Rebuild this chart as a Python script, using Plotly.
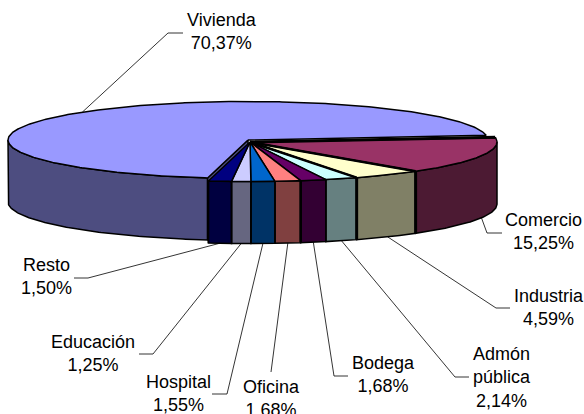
import math
import plotly.graph_objects as go

# ---- data -------------------------------------------------------------
categories = ["Comercio", "Industria", "Admón<br>pública", "Bodega", "Oficina",
              "Hospital", "Educación", "Resto", "Vivienda"]
values = [15.25, 4.59, 2.14, 1.68, 1.68, 1.55, 1.25, 1.50, 70.37]

# ---- styles -----------------------------------------------------------
top_colors = ["#993366", "#FFFFCC", "#CCFFFF", "#660066", "#FF8080",
              "#0066CC", "#CCCCFF", "#000080", "#9999FF"]
wall_colors = ["#4C1A33", "#808066", "#668080", "#330033", "#804040",
               "#003366", "#666680", "#000040", "#4D4D80"]
sep_widths = [3.0, 3.0, 1.2, 2.6, 1.5, 1.5, 1.5, 1.5, 1.5]   # edge at end of each slice

# ---- projection of the pie --------------------------------------------
START = 83.0
H = 62
GROUP = dict(cx=250, cy=142, a=247, b=39.5)
PULLED = dict(cx=248, cy=140, a=240, b=38.5)
LW = 1.5


def rim(phi, g, drop=0):
    r = math.radians(phi)
    return g["cx"] + g["a"] * math.sin(r), g["cy"] - g["b"] * math.cos(r) + drop


def arc(p0, p1, g, drop=0):
    n = max(2, int(abs(p1 - p0) * 1.5))
    return [rim(p0 + (p1 - p0) * i / n, g, drop) for i in range(n + 1)]


def poly(fig, pts, fill, width=LW):
    xs = [p[0] for p in pts]
    ys = [p[1] for p in pts]
    fig.add_trace(go.Scatter(x=xs + xs[:1], y=ys + ys[:1], mode="lines", fill="toself",
                             fillcolor=fill, line=dict(color="black", width=width),
                             hoverinfo="skip", showlegend=False))


total = sum(values)
edges = [START]
for v in values:
    edges.append(edges[-1] + v / total * 360)

fig = go.Figure()

# pulled-out slice first (it lies behind the rest)
p0, p1 = edges[8], edges[9]
g = PULLED
apex = (g["cx"], g["cy"])
wall_end = min(p1, 270)
poly(fig, arc(p0, wall_end, g) + arc(wall_end, p0, g, H), wall_colors[8])
poly(fig, [apex, rim(p0, g), rim(p0, g, H), (apex[0], apex[1] + H)], wall_colors[8])
poly(fig, [apex] + arc(p0, p1, g), top_colors[8])

# remaining slices, walls then tops
g = GROUP
apex = (g["cx"], g["cy"])
for i in range(8):
    a0, a1 = edges[i], edges[i + 1]
    w0 = max(a0, 90)
    poly(fig, arc(w0, a1, g) + arc(a1, w0, g, H), wall_colors[i])
for i in range(8):
    poly(fig, [apex] + arc(edges[i], edges[i + 1], g), top_colors[i])
for i in range(8):
    e = edges[i + 1]
    x, y = rim(e, g)
    fig.add_trace(go.Scatter(x=[x, x], y=[y, y + H], mode="lines",
                             line=dict(color="black", width=sep_widths[i]),
                             hoverinfo="skip", showlegend=False))
    if sep_widths[i] > 2.8:
        fig.add_trace(go.Scatter(x=[apex[0], x], y=[apex[1], y], mode="lines",
                                 line=dict(color="black", width=2.6),
                                 hoverinfo="skip", showlegend=False))
x, y = rim(START, g)
fig.add_trace(go.Scatter(x=[apex[0], x], y=[apex[1], y], mode="lines",
                         line=dict(color="black", width=3),
                         hoverinfo="skip", showlegend=False))

# ---- labels and leaders -------------------------------------------------
label_pos = [(543, 231), (549, 307), (502, 377), (383, 374), (271, 398),
             (178, 393), (93, 353), (46, 276), (222, 31)]
leader_mid = [[(487, 233), (502, 233)], [(496, 308), (510, 308)], [(455, 377), (469, 377)],
              [(334, 376), (348, 376)], [(271, 372)], [(227, 394), (212, 394)],
              [(153, 354), (139, 354)], [(88, 278), (74, 278)], [(168, 33), (183, 33)]]

annotations = []
for i, (name, v) in enumerate(zip(categories, values)):
    mid = (edges[i] + edges[i + 1]) / 2
    if i == 8:
        sx, sy = rim(mid, PULLED)
    else:
        sx, sy = rim(mid, GROUP, H)
    pts = [(sx, sy)] + leader_mid[i]
    fig.add_trace(go.Scatter(x=[p[0] for p in pts], y=[p[1] for p in pts], mode="lines",
                             line=dict(color="black", width=0.8),
                             hoverinfo="skip", showlegend=False))
    pct = f"{v:.2f}".replace(".", ",") + "%"
    annotations.append(dict(x=label_pos[i][0], y=label_pos[i][1], xref="x", yref="y",
                            text=f"{name}<br>{pct}", showarrow=False, align="center",
                            xanchor="center", yanchor="middle",
                            font=dict(family="Liberation Sans", size=18, color="black")))

fig.update_layout(width=584, height=414, margin=dict(l=0, r=0, t=0, b=0),
                  paper_bgcolor="white", plot_bgcolor="white", showlegend=False,
                  annotations=annotations,
                  xaxis=dict(range=[0, 584], visible=False, fixedrange=True),
                  yaxis=dict(range=[414, 0], visible=False, fixedrange=True))
fig.write_html("out.html", config={"displayModeBar": False},
               post_script="document.documentElement.style.overflow='hidden';document.body.style.margin='0';")
